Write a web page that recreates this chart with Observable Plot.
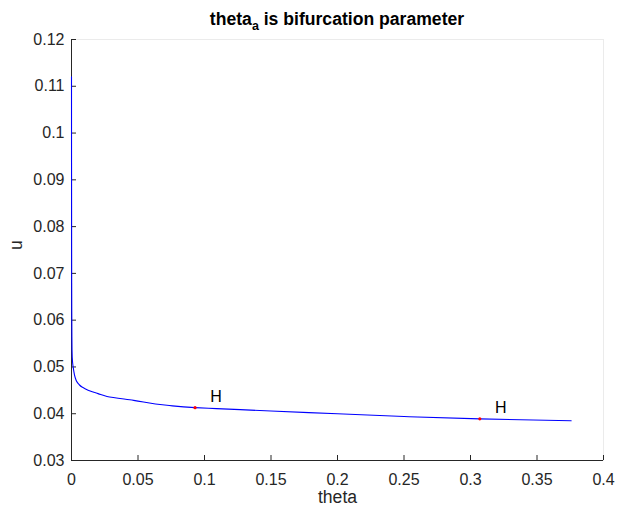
<!DOCTYPE html>
<html>
<head>
<meta charset="utf-8">
<script src="https://cdn.jsdelivr.net/npm/d3@7"></script>
<script src="https://cdn.jsdelivr.net/npm/@observablehq/plot@0.6"></script>
<style>
  html, body { margin: 0; padding: 0; background: #fff; }
  #chart svg { display: block; font-family: "Liberation Sans", Arial, Helvetica, sans-serif; }
</style>
</head>
<body>
<div id="chart"></div>
<script>
// Equilibrium branch u(theta) from the continuation run
const theta = [0, 0.0001, 0.0002, 0.0004, 0.0008, 0.0016, 0.0028, 0.0041, 0.0058, 0.0079,
               0.0105, 0.014, 0.02, 0.0267, 0.0467, 0.0718, 0.0929, 0.109, 0.15, 0.2,
               0.25, 0.307, 0.3757];
const u = [0.1120, 0.0750, 0.0620, 0.0536, 0.0510, 0.0493, 0.0477, 0.0468, 0.0462, 0.0457,
           0.0453, 0.04485, 0.0443, 0.0437, 0.04286, 0.0418, 0.0413, 0.0411, 0.04057, 0.0400,
           0.0394, 0.0389, 0.0385];

// Hopf bifurcation points found on the branch
const hopfTheta = [0.0929, 0.307];
const hopfU = [0.0413, 0.0389];
const hopfLabel = ["H", "H"];

const xTicks = [0, 0.05, 0.1, 0.15, 0.2, 0.25, 0.3, 0.35, 0.4];
const yTicks = [0.03, 0.04, 0.05, 0.06, 0.07, 0.08, 0.09, 0.1, 0.11, 0.12];

const branch = theta.map((t, i) => ({theta: t, u: u[i]}));
const hopf = hopfTheta.map((t, i) => ({theta: t, u: hopfU[i], label: hopfLabel[i]}));

const axisColor = "#262626";

const chart = Plot.plot({
  width: 617,
  height: 514,
  marginLeft: 71,
  marginTop: 39,
  marginRight: 14,
  marginBottom: 54,
  style: {fontSize: "16px", color: axisColor, background: "#fff"},
  x: {domain: [0, 0.4]},
  y: {domain: [0.03, 0.12]},
  marks: [
    Plot.frame({stroke: "#ebebeb", strokeWidth: 1}),
    Plot.axisX({ticks: xTicks, tickFormat: d => String(d), tickSize: -5, tickPadding: 18,
                label: null, stroke: axisColor, fill: axisColor}),
    Plot.axisY({ticks: yTicks, tickFormat: d => String(d), tickSize: -5, tickPadding: 12,
                label: null, stroke: axisColor, fill: axisColor}),
    Plot.ruleX([0], {stroke: axisColor, strokeWidth: 1}),
    Plot.ruleY([0.03], {stroke: axisColor, strokeWidth: 1}),
    Plot.line(branch, {x: "theta", y: "u", stroke: "#0000ff", strokeWidth: 1.1, curve: "monotone-y"}),
    Plot.dot(hopf, {x: "theta", y: "u", r: 1.6, fill: "#ff0000", stroke: null}),
    Plot.text(hopf, {x: "theta", y: "u", text: "label", dx: 21, dy: -11,
                     fontSize: 16, fill: "#000"}),
    Plot.text(["theta"], {frameAnchor: "bottom", dy: 42, fontSize: 17.6, fill: axisColor}),
    Plot.text(["u"], {frameAnchor: "left", dx: -55, rotate: -90, fontSize: 17.6, fill: axisColor})
  ]
});

// Title with a subscripted "a"
const svg = d3.select(chart);
const title = svg.append("text")
  .attr("x", 71 + (603 - 71) / 2)
  .attr("y", 25)
  .attr("text-anchor", "middle")
  .attr("font-size", 17.6)
  .attr("font-weight", "bold")
  .attr("fill", "#000");
title.append("tspan").text("theta");
title.append("tspan").attr("dy", 5).attr("font-size", 12.5).text("a");
title.append("tspan").attr("dy", -5).text(" is bifurcation parameter");

document.getElementById("chart").appendChild(chart);
</script>
</body>
</html>
